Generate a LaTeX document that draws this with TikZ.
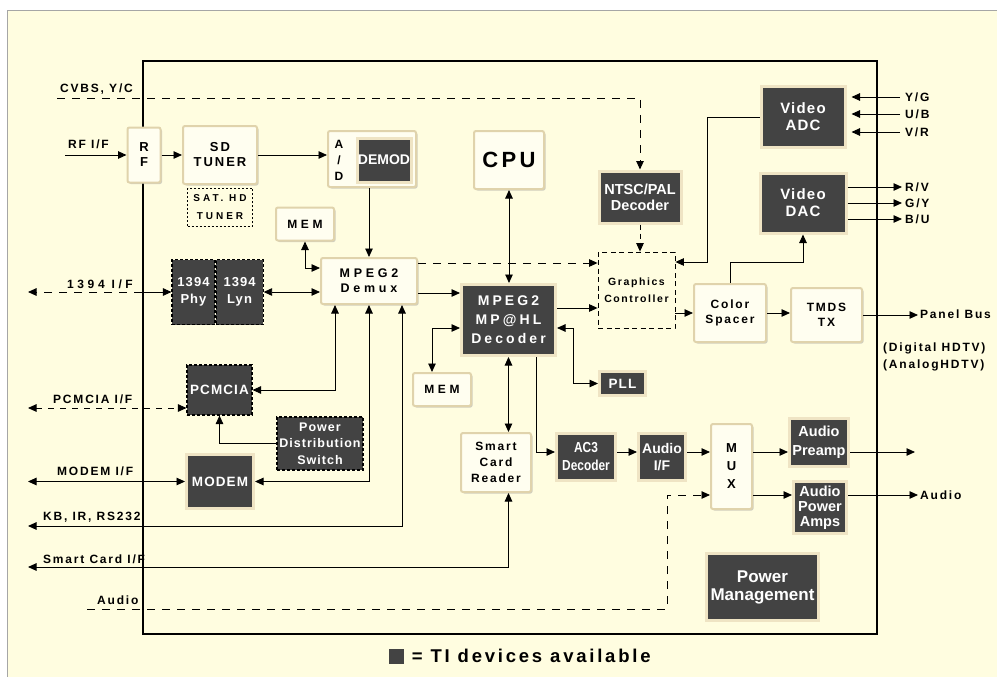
\documentclass[tikz,border=0pt]{standalone}
\usepackage{fontspec}
\setmainfont{Liberation Sans}
\newfontfamily\lblfont{Liberation Sans}[LetterSpace=15]
\newfontfamily\widefont{Liberation Sans}[LetterSpace=30]
\newfontfamily\darkfont{Liberation Sans}[LetterSpace=8]
\newfontfamily\widedark{Liberation Sans}[LetterSpace=22]
\newfontfamily\condfont{Liberation Sans}[FakeStretch=0.82]
\usepackage{xcolor}
\usetikzlibrary{arrows.meta, positioning, calc, shadows}
\definecolor{paper}{HTML}{FFFDE0}
\definecolor{boxface}{HTML}{FFFEF0}
\definecolor{boxrim}{HTML}{E0D3AC}
\definecolor{chipgray}{HTML}{434343}
\definecolor{darkrim}{HTML}{EFE4C4}

\begin{document}
\begin{tikzpicture}[
    x=1pt, y=-1pt,
    wh/.style 2 args={minimum width=#1pt, minimum height=#2pt},
    lite/.style={rectangle, draw=boxrim, line width=2pt, fill=boxface, rounded corners=2pt, inner sep=0pt, align=center, text=black,
        font=\lblfont\bfseries\fontsize{12}{15}\selectfont,
        drop shadow={shadow xshift=1.5pt, shadow yshift=-1.5pt, fill=black!40, opacity=0.45}},
    dark/.style={rectangle, draw=darkrim, line width=3pt, fill=chipgray, inner sep=0pt, align=center, text=white,
        font=\darkfont\bfseries\fontsize{15}{17}\selectfont,
        drop shadow={shadow xshift=1.5pt, shadow yshift=-1.5pt, fill=black!40, opacity=0.45}},
    dashdark/.style={rectangle, draw=black, line width=1.1pt, dash pattern=on 3pt off 2pt, fill=chipgray, inner sep=0pt, align=center, text=white,
        font=\darkfont\bfseries\fontsize{13}{17}\selectfont},
    sketch/.style={rectangle, draw=black, line width=0.8pt, dash pattern=on 5pt off 3.5pt, inner sep=0pt, align=center,
        font=\lblfont\bfseries\fontsize{10.5}{17}\selectfont},
    lbl/.style={font=\lblfont\bfseries\fontsize{12}{17}\selectfont, inner sep=0pt, anchor=west, align=left},
    arrow/.style={-{Triangle[length=8.5pt,width=7.5pt]}, line width=0.9pt},
    twoway/.style={{Triangle[length=8.5pt,width=7.5pt]}-{Triangle[length=8.5pt,width=7.5pt]}, line width=0.9pt},
    longdash/.style={dash pattern=on 8pt off 7pt},
]
    \useasboundingbox (0,0) rectangle (997,677);
    \fill[white] (0,0) rectangle (997,677);
    \fill[paper] (7,10) rectangle (997,677);
    \draw[gray!70, line width=0.7pt] (7,677) -- (7,10) -- (997,10);

    \node[draw, line width=2pt, inner sep=0pt, wh={734}{573}] (chip) at (510,347.5) {};

    \node[lite, wh={33}{55}, font=\lblfont\bfseries\fontsize{13}{15}\selectfont] (rf) at (144,155) {R\\F};
    \node[lite, wh={74}{58}, font=\lblfont\bfseries\fontsize{13}{15}\selectfont] (sdtuner) at (220,155) {SD\\TUNER};
    \node[rectangle, draw, line width=0.8pt, dash pattern=on 2pt off 2pt, inner sep=0pt, align=center, wh={65}{38},
        font=\widefont\bfseries\fontsize{10}{18}\selectfont, below=3pt of sdtuner] (sathd) {SAT. HD\\TUNER};
    \node[lite, wh={88}{56}] (ad) at (372,159) {};
    \node[font=\bfseries\fontsize{12}{16}\selectfont, align=center, inner sep=0pt] (adtag) at (339,160) {A\\/\\D};
    \node[dark, wh={54}{44}, font=\bfseries\fontsize{14}{16}\selectfont] (demod) at (384,160) {DEMOD};
    \node[lite, wh={70}{58}, font=\lblfont\bfseries\fontsize{22}{26}\selectfont] (cpu) at (509,160) {CPU};
    \node[dark, wh={82}{52}, font=\bfseries\fontsize{14.5}{16}\selectfont] (ntsc) at (640,197) {NTSC/PAL\\Decoder};
    \node[dark, wh={84}{60}] (vadc) at (803,117) {Video\\ADC};
    \node[dark, wh={86}{60}] (vdac) at (803,203) {Video\\DAC};

    \node[lite, wh={58}{33}, font=\widefont\bfseries\fontsize{12}{15}\selectfont] (memtop) at (305,224) {MEM};
    \node[lite, wh={96}{46}, font=\widefont\bfseries\fontsize{12.5}{15}\selectfont] (demux) at (369,281) {MPEG2\\Demux};
    \node[dashdark, wh={43}{65}] (phy) at (193.5,292) {1394\\Phy};
    \node[dashdark, wh={47}{65}, right=0pt of phy] (lyn) {1394\\Lyn};
    \node[dashdark, wh={65}{50}, font=\darkfont\bfseries\fontsize{13.5}{17}\selectfont] (pcmcia) at (219.5,390) {PCMCIA};
    \node[dashdark, wh={86}{53}, font=\darkfont\bfseries\fontsize{12.5}{16.5}\selectfont] (pds) at (320,443.5) {Power\\Distribution\\Switch};
    \node[dark, wh={67}{54}, font=\darkfont\bfseries\fontsize{13.5}{16}\selectfont] (modem) at (220,481.5) {MODEM};

    \node[dark, wh={94}{71}, font=\widedark\bfseries\fontsize{14}{19}\selectfont] (decoder) at (508.5,320) {MPEG2\\MP@HL\\Decoder};
    \node[sketch, wh={77}{76}] (gc) at (636.5,290) {Graphics\\Controller};
    \node[lite, wh={72}{58}] (cspace) at (730,313) {Color\\Spacer};
    \node[lite, wh={71}{54}] (tmds) at (826.5,315) {TMDS\\TX};
    \node[lite, wh={58}{33}, font=\widefont\bfseries\fontsize{12}{15}\selectfont] (membot) at (442,389.5) {MEM};
    \node[dark, wh={46}{24}, font=\darkfont\bfseries\fontsize{13.5}{16}\selectfont] (pll) at (622.5,383.5) {PLL};

    \node[lite, wh={70}{59}, font=\lblfont\bfseries\fontsize{12}{16}\selectfont] (scr) at (496,462.5) {Smart\\Card\\Reader};
    \node[dark, wh={59}{47}, font=\condfont\bfseries\fontsize{14.5}{18}\selectfont] (ac3) at (586,457) {AC3\\Decoder};
    \node[dark, wh={47}{47}, font=\bfseries\fontsize{14}{17}\selectfont] (aif) at (662,457) {Audio\\I/F};
    \node[lite, wh={41}{85}, font=\lblfont\bfseries\fontsize{13}{18}\selectfont] (mux) at (731.5,466.5) {M\\U\\X};
    \node[dark, wh={59}{48}, font=\bfseries\fontsize{14.5}{19}\selectfont] (preamp) at (819,442.5) {Audio\\Preamp};
    \node[dark, wh={53}{52}, font=\bfseries\fontsize{14.5}{15}\selectfont] (pamp) at (820,507.5) {Audio\\Power\\Amps};
    \node[dark, wh={112}{67}, font=\bfseries\fontsize{17}{18}\selectfont] (pm) at (762.5,587) {Power\\Management};

    \node[lbl] (lcvbs) at (60,89) {CVBS, Y/C};
    \node[lbl] (lrf) at (68,144) {RF I/F};
    \node[lbl, font=\widefont\bfseries\fontsize{12}{15}\selectfont] (l1394) at (67,284) {1394 I/F};
    \node[lbl] (lpcm) at (53,399) {PCMCIA I/F};
    \node[lbl] (lmodem) at (57,471) {MODEM I/F};
    \node[lbl] (lkb) at (43,517) {KB, IR, RS232};
    \node[lbl] (lscard) at (43,559) {Smart Card I/F};
    \node[lbl] (laudin) at (97,600) {Audio};
    \node[lbl] (lyg) at (905,97) {Y/G};
    \node[lbl] (lub) at (905,114) {U/B};
    \node[lbl] (lvr) at (905,132) {V/R};
    \node[lbl] (lrv) at (905,187) {R/V};
    \node[lbl] (lgy) at (905,203) {G/Y};
    \node[lbl] (lbu) at (905,219) {B/U};
    \node[lbl] (lpanel) at (920,314) {Panel Bus};
    \node[lbl] (lhdtv) at (883,357) {(Digital HDTV)\\(AnalogHDTV)};
    \node[lbl] (laudout) at (920,495) {Audio};

    \node[rectangle, fill=chipgray, inner sep=0pt, wh={15}{15}] (key) at (396,656) {};
    \node[font=\lblfont\bfseries\fontsize{18.5}{21}\selectfont, inner sep=0pt, right=8pt of key] (keytext) {= TI devices available};

    \coordinate (cvbsin) at (57,98);
    \coordinate (rfin) at (65,155);
    \coordinate (fw1394) at (28,292);
    \coordinate (pcmin) at (28,408);
    \coordinate (modemin) at (28,481.5);
    \coordinate (kbin) at (28,526);
    \coordinate (scin) at (28,567);
    \coordinate (audin) at (87,609);
    \coordinate (audturn) at (667,495);
    \coordinate (yg) at (900,97);
    \coordinate (ub) at (900,114);
    \coordinate (vr) at (900,132);
    \coordinate (rv) at (902,187);
    \coordinate (gy) at (902,203);
    \coordinate (bu) at (902,219);
    \coordinate (panel) at (918,315);
    \coordinate (preout) at (915,452);
    \coordinate (audout) at (918,495);

    \draw[arrow, longdash] (cvbsin) -| (ntsc.north);
    \draw[arrow] (rfin) -- (rf.west);
    \draw[arrow] (rf) -- (sdtuner);
    \draw[arrow] (sdtuner.east) -- (sdtuner.east -| ad.west);
    \draw[arrow] (demux.north |- ad.south) -- (demux.north);
    \draw[twoway] (cpu.south) -- (cpu.south |- decoder.north);
    \draw[arrow, dash pattern=on 5pt off 4pt] (ntsc.south) -- (ntsc.south |- gc.north);
    \draw[arrow] (vadc.west) -- ++(-52,0) |- ([yshift=28pt]gc.east);
    \draw[arrow, longdash] ([yshift=18pt]demux.east) -- ([yshift=18pt]demux.east -| gc.west);
    \draw[arrow] ([yshift=-12pt]demux.east) -- ([yshift=-12pt]demux.east -| decoder.west);
    \draw[arrow] ([yshift=12pt]decoder.east) -- ([yshift=12pt]decoder.east -| gc.west);
    \draw[arrow] (cspace.west -| gc.east) -- (cspace.west);
    \draw[arrow] (cspace.north) -- ++(0,-21) -| (vdac.south);
    \draw[arrow] (cspace.east) -- (cspace.east -| tmds.west);
    \draw[arrow] (tmds.east) -- (panel);
    \draw[arrow, shorten >=5pt] (yg) -- (yg -| vadc.east);
    \draw[arrow, shorten >=5pt] (ub) -- (ub -| vadc.east);
    \draw[arrow, shorten >=5pt] (vr) -- (vr -| vadc.east);
    \draw[arrow] (vdac.east |- rv) -- (rv);
    \draw[arrow] (vdac.east |- gy) -- (gy);
    \draw[arrow] (vdac.east |- bu) -- (bu);

    \draw[arrow] (chip.west |- phy) -- (phy.west);
    \draw[arrow, longdash] (chip.west |- phy) -- (fw1394);
    \draw[twoway] (lyn.east) -- (lyn.east -| demux.west);
    \draw[twoway] (memtop.south) |- ([yshift=13pt]demux.west);
    \draw[twoway, dash pattern=on 6pt off 6pt] (pcmin) -- (pcmin -| pcmcia.west);
    \draw[twoway] ([xshift=-34pt]demux.south) |- (pcmcia.east);
    \draw[twoway] (demux.south) |- (modem.east);
    \draw[twoway] ([xshift=33pt]demux.south) |- (kbin);
    \draw[arrow] (pds.west) -| (pcmcia.south);
    \draw[twoway] (modemin) -- (modem.west);

    \draw[twoway] (decoder.south) -- (decoder.south |- scr.north);
    \draw[twoway] (scin) -| (decoder.south |- scr.south);
    \draw[arrow] ([xshift=28pt]decoder.south) |- ([yshift=5pt]ac3.west);
    \draw[arrow] ([yshift=5pt]ac3.east) -- ([yshift=5pt]ac3.east -| aif.west);
    \draw[arrow] ([yshift=5pt]aif.east) -- ([yshift=5pt]aif.east -| mux.west);
    \draw[arrow] (mux.east |- preout) -- (preamp.west |- preout);
    \draw[arrow] (mux.east |- audout) -- (pamp.west |- audout);
    \draw[arrow] (preamp.east |- preout) -- (preout);
    \draw[arrow] (pamp.east |- audout) -- (audout);
    \draw[arrow, longdash] (audin) -| (audturn) -- (audturn -| mux.west);
    \draw[twoway] ([yshift=-8pt]decoder.west) -| ([xshift=-10pt]membot.north);
    \draw[twoway] ([yshift=-8pt]decoder.east) -- ++(16,0) |- (pll.west);
\end{tikzpicture}
\end{document}
